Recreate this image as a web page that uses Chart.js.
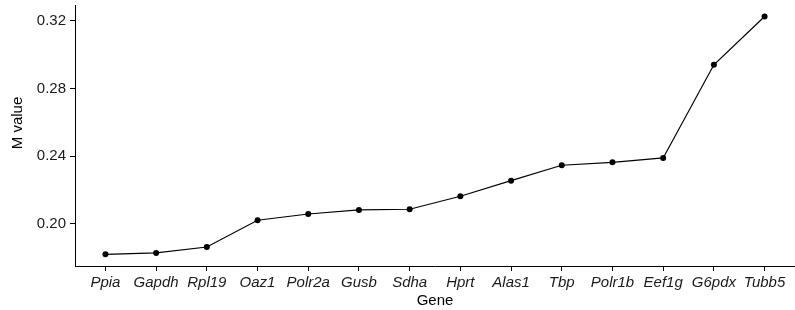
<!DOCTYPE html>
<html>
<head>
<meta charset="utf-8">
<script src="https://cdn.jsdelivr.net/npm/chart.js@4"></script>
<style>
  html, body { margin: 0; padding: 0; background: #fff; }
  .wrap { width: 795px; height: 310px; position: relative; }
</style>
</head>
<body>
<div class="wrap"><canvas id="mChart"></canvas></div>
<script>
const genes = ['Ppia', 'Gapdh', 'Rpl19', 'Oaz1', 'Polr2a', 'Gusb', 'Sdha',
  'Hprt', 'Alas1', 'Tbp', 'Polr1b', 'Eef1g', 'G6pdx', 'Tubb5'];
const mValues = [0.1821, 0.1829, 0.1864, 0.2022, 0.2059, 0.2083, 0.2087,
  0.2164, 0.2256, 0.2347, 0.2364, 0.2390, 0.2940, 0.3225];
const yTicks = [0.20, 0.24, 0.28, 0.32];

const FONT = '"Liberation Sans", Arial, Helvetica, sans-serif';

document.addEventListener('DOMContentLoaded', () => {
  createMChart();
});

function createMChart() {
  const ctx = document.getElementById('mChart');
  if (!ctx) return;

  new Chart(ctx, {
    type: 'line',
    data: {
      datasets: [{
        label: 'M value',
        data: mValues.map((v, i) => ({ x: i, y: v })),
        borderColor: '#000',
        backgroundColor: '#000',
        borderWidth: 1.2,
        tension: 0,
        fill: false,
        pointRadius: 3,
        pointBackgroundColor: '#000',
        pointBorderWidth: 0
      }]
    },
    options: {
      responsive: true,
      maintainAspectRatio: false,
      animation: false,
      layout: {
        autoPadding: false,
        padding: { top: 5, right: 0, left: 0, bottom: 0 }
      },
      plugins: {
        legend: { display: false },
        tooltip: { enabled: false }
      },
      scales: {
        x: {
          type: 'linear',
          min: -0.6,
          max: genes.length - 1 + 0.6,
          afterBuildTicks: scale => {
            scale.ticks = genes.map((g, i) => ({ value: i }));
          },
          // fixed axis band, no extra edge padding for labels
          afterFit: scale => {
            scale.height = 44;
            scale.paddingLeft = 0;
            scale.paddingRight = 0;
          },
          grid: {
            drawOnChartArea: false,
            drawTicks: true,
            tickLength: 5,
            color: '#000'
          },
          border: { display: true, color: '#000', width: 1 },
          ticks: {
            autoSkip: false,
            maxRotation: 0,
            padding: 3,
            color: '#1a1a1a',
            font: { family: FONT, size: 15, style: 'italic' },
            callback: value => genes[value]
          },
          title: {
            display: true,
            text: 'Gene',
            color: '#000',
            padding: { top: 0, bottom: 0 },
            font: { family: FONT, size: 15 }
          }
        },
        y: {
          min: 0.1752,
          max: 0.3293,
          afterBuildTicks: scale => {
            scale.ticks = yTicks.map(v => ({ value: v }));
          },
          afterFit: scale => {
            scale.width = 75;
            scale.paddingTop = 0;
            scale.paddingBottom = 0;
          },
          grid: {
            drawOnChartArea: false,
            drawTicks: true,
            tickLength: 5,
            color: '#000'
          },
          border: { display: true, color: '#000', width: 1 },
          ticks: {
            padding: 4,
            color: '#1a1a1a',
            font: { family: FONT, size: 15 },
            callback: value => value.toFixed(2)
          },
          title: {
            display: true,
            // leading nbsp nudges the title up a bit, like the original
            text: '\u00a0\u00a0\u00a0\u00a0\u00a0\u00a0M value',
            color: '#000',
            padding: { top: 9, bottom: 0 },
            font: { family: FONT, size: 15 }
          }
        }
      }
    }
  });
}
</script>
</body>
</html>
